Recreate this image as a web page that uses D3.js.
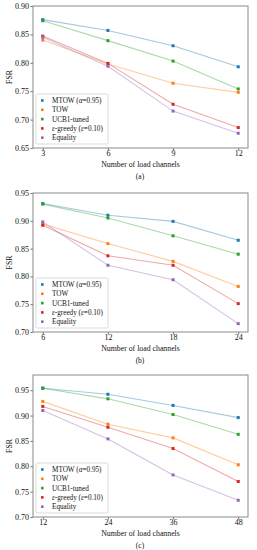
<!DOCTYPE html>
<html>
<head>
<meta charset="utf-8">
<script src="https://cdn.jsdelivr.net/npm/d3@7"></script>
<style>
  body { margin: 0; background: #fff; }
  svg { display: block; font-family: "Liberation Serif", "DejaVu Serif", serif; }
</style>
</head>
<body>
<svg id="chart" width="257" height="550"></svg>
<script>
// series names and colours (matplotlib tab10)
const seriesNames = ["MTOW", "TOW", "UCB1-tuned", "egreedy", "Equality"];
const seriesColors = ["#1f77b4", "#ff7f0e", "#2ca02c", "#d62728", "#9467bd"];

// panel (a)
const channelsA = [3, 6, 9, 12];
const mtowA = [0.876, 0.857, 0.830, 0.793];
const towA = [0.840, 0.798, 0.764, 0.748];
const ucbA = [0.874, 0.839, 0.803, 0.754];
const epsA = [0.847, 0.799, 0.727, 0.686];
const eqA = [0.845, 0.794, 0.715, 0.676];

// panel (b)
const channelsB = [6, 12, 18, 24];
const mtowB = [0.931, 0.910, 0.899, 0.865];
const towB = [0.894, 0.859, 0.827, 0.782];
const ucbB = [0.930, 0.905, 0.873, 0.840];
const epsB = [0.892, 0.837, 0.820, 0.751];
const eqB = [0.898, 0.820, 0.794, 0.715];

// panel (c)
const channelsC = [12, 24, 36, 48];
const mtowC = [0.954, 0.942, 0.920, 0.896];
const towC = [0.928, 0.883, 0.856, 0.803];
const ucbC = [0.954, 0.933, 0.902, 0.863];
const epsC = [0.918, 0.877, 0.835, 0.770];
const eqC = [0.910, 0.854, 0.783, 0.733];

const yTicksA = [0.65, 0.70, 0.75, 0.80, 0.85, 0.90];
const yTicksB = [0.70, 0.75, 0.80, 0.85, 0.90, 0.95];
const yTicksC = [0.70, 0.75, 0.80, 0.85, 0.90, 0.95];

const svg = d3.select("#chart");

function drawPanel(opt) {
  const left = 33, right = 248;
  const xs = opt.x;
  const span = xs[xs.length - 1] - xs[0];
  const x = d3.scaleLinear()
    .domain([xs[0] - span * 0.05, xs[xs.length - 1] + span * 0.05])
    .range([left, right]);
  const y = d3.scaleLinear().domain(opt.yDomain).range([opt.bottom, opt.top]);

  const g = svg.append("g");

  // data lines + markers
  const series = [opt.mtow, opt.tow, opt.ucb, opt.eps, opt.eq];
  const line = d3.line().x((d, i) => x(xs[i])).y(d => y(d));
  series.forEach((vals, k) => {
    g.append("path")
      .attr("d", line(vals))
      .attr("fill", "none")
      .attr("stroke", seriesColors[k])
      .attr("stroke-opacity", 0.4)
      .attr("stroke-width", 1.1);
  });
  series.forEach((vals, k) => {
    g.selectAll(null).data(vals).enter().append("rect")
      .attr("x", (d, i) => x(xs[i]) - 1.5)
      .attr("y", d => y(d) - 1.5)
      .attr("width", 3).attr("height", 3)
      .attr("fill", seriesColors[k]);
  });

  // axes
  const xAxis = g.append("g")
    .attr("transform", `translate(0,${opt.bottom})`)
    .call(d3.axisBottom(x).tickValues(xs).tickSize(2.5).tickPadding(0.3).tickFormat(d3.format("d")));
  const yAxis = g.append("g")
    .attr("transform", `translate(${left},0)`)
    .call(d3.axisLeft(y).tickValues(opt.yTicks).tickSize(2.5).tickPadding(1.5).tickFormat(d3.format(".2f")));
  [xAxis, yAxis].forEach(a => {
    a.select(".domain").remove();
    a.selectAll("line").attr("stroke", "#333").attr("stroke-width", 0.7);
    a.selectAll("text").attr("font-family", "Liberation Serif").attr("font-size", 8).attr("fill", "#111");
  });

  // frame
  g.append("rect")
    .attr("x", left).attr("y", opt.top)
    .attr("width", right - left).attr("height", opt.bottom - opt.top)
    .attr("fill", "none").attr("stroke", "#8a8a8a").attr("stroke-width", 1);

  // axis labels
  g.append("text")
    .attr("x", (left + right) / 2).attr("y", opt.bottom + 19)
    .attr("text-anchor", "middle").attr("font-size", 7.8).attr("fill", "#111")
    .text("Number of load channels");
  g.append("text")
    .attr("transform", `translate(12,${(opt.top + opt.bottom) / 2}) rotate(-90)`)
    .attr("text-anchor", "middle").attr("font-size", 7.8).attr("fill", "#111")
    .text("FSR");
  g.append("text")
    .attr("x", 140).attr("y", opt.bottom + 31)
    .attr("text-anchor", "middle").attr("font-size", 7.5).attr("fill", "#111")
    .text(opt.caption);

  // legend
  const lx = 36, ly = opt.bottom - 54;
  g.append("rect")
    .attr("x", lx).attr("y", ly).attr("width", 72).attr("height", 50)
    .attr("rx", 1.5)
    .attr("fill", "#fff").attr("fill-opacity", 0.85)
    .attr("stroke", "#d0d0d0").attr("stroke-width", 0.8);
  seriesNames.forEach((name, k) => {
    const yy = ly + 6.5 + k * 9.3;
    g.append("rect")
      .attr("x", lx + 5).attr("y", yy - 1.3).attr("width", 2.6).attr("height", 2.6)
      .attr("fill", seriesColors[k]);
    const t = g.append("text")
      .attr("x", lx + 16).attr("y", yy + 2.5)
      .attr("font-size", 7.2).attr("fill", "#111");
    if (name === "MTOW") {
      t.append("tspan").text("MTOW (");
      t.append("tspan").attr("font-style", "italic").text("α");
      t.append("tspan").text("=0.95)");
    } else if (name === "egreedy") {
      t.append("tspan").attr("font-style", "italic").text("ε");
      t.append("tspan").text("-greedy (");
      t.append("tspan").attr("font-style", "italic").text("ε");
      t.append("tspan").text("=0.10)");
    } else {
      t.text(name);
    }
  });
}

drawPanel({ x: channelsA, mtow: mtowA, tow: towA, ucb: ucbA, eps: epsA, eq: eqA,
  yTicks: yTicksA, yDomain: [0.65, 0.90], top: 6, bottom: 148, caption: "(a)" });
drawPanel({ x: channelsB, mtow: mtowB, tow: towB, ucb: ucbB, eps: epsB, eq: eqB,
  yTicks: yTicksB, yDomain: [0.70, 0.95], top: 193, bottom: 332, caption: "(b)" });
drawPanel({ x: channelsC, mtow: mtowC, tow: towC, ucb: ucbC, eps: epsC, eq: eqC,
  yTicks: yTicksC, yDomain: [0.70, 0.98], top: 375, bottom: 517, caption: "(c)" });
</script>
</body>
</html>
